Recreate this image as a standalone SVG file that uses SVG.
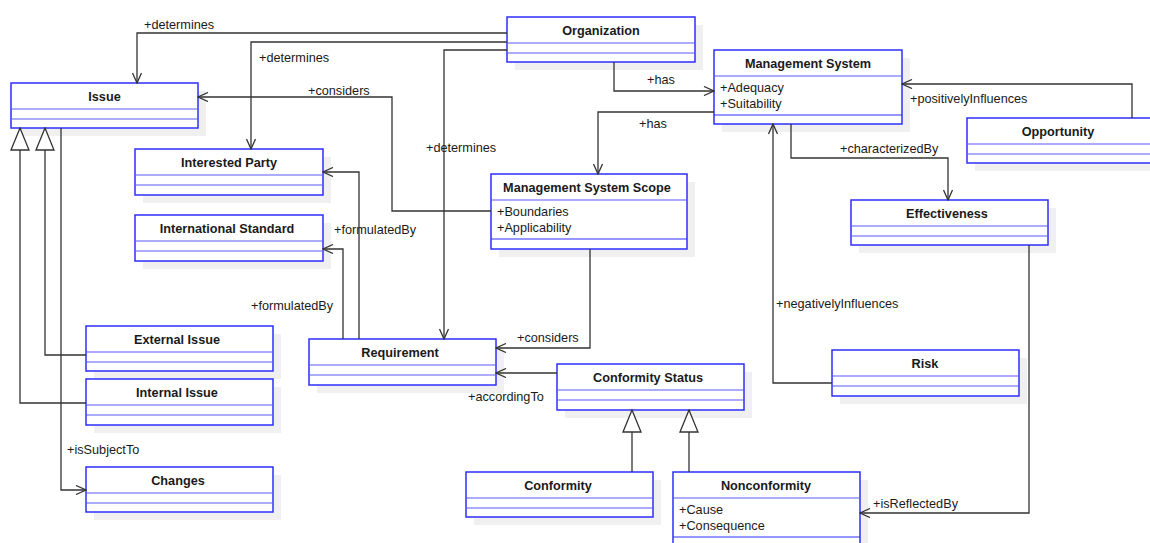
<svg xmlns="http://www.w3.org/2000/svg" width="1150" height="543" viewBox="0 0 1150 543">
  <defs>
    <style>
      .shadow { fill: #f0f0f0; stroke: none; }
      .box { fill: #ffffff; stroke: #2e2eff; stroke-width: 1.5; }
      .sep { stroke: #5a5aff; stroke-width: 1.2; fill: none; }
      .title { font-family: "Liberation Sans", Arial, sans-serif; font-size: 12.7px; font-weight: bold; fill: #1a1a1a; text-anchor: middle; }
      .attr { font-family: "Liberation Sans", Arial, sans-serif; font-size: 12.7px; fill: #1a1a1a; }
      .lbl { font-family: "Liberation Sans", Arial, sans-serif; font-size: 12.7px; fill: #1a1a1a; }
      .conn { fill: none; stroke: #333333; stroke-width: 1.3; }
      .assoc { marker-end: url(#open); }
      .gen { marker-end: url(#tri); }
    </style>
    <marker id="open" viewBox="0 0 12 10" refX="11" refY="5" markerWidth="12" markerHeight="10" markerUnits="userSpaceOnUse" orient="auto">
      <path d="M1,0.5 L11,5 L1,9.5" fill="none" stroke="#333333" stroke-width="1.3"/>
    </marker>
    <marker id="tri" viewBox="0 0 24 20" refX="23" refY="10" markerWidth="24" markerHeight="20" markerUnits="userSpaceOnUse" orient="auto">
      <path d="M1,1 L23,10 L1,19 Z" fill="#ffffff" stroke="#333333" stroke-width="1.3"/>
    </marker>
  </defs>

  <rect width="1150" height="543" fill="#ffffff"/>

  <!-- classes -->
  <g id="organization">
    <rect class="shadow" x="515" y="25" width="188" height="45"/>
    <rect class="box" x="507" y="17" width="188" height="45"/>
    <path class="sep" d="M507,43 H695 M507,53 H695"/>
    <text class="title" x="601" y="35">Organization</text>
  </g>

  <g id="issue">
    <rect class="shadow" x="19" y="91" width="187" height="45"/>
    <rect class="box" x="11" y="83" width="187" height="45"/>
    <path class="sep" d="M11,109 H198 M11,119 H198"/>
    <text class="title" x="104.5" y="101">Issue</text>
  </g>

  <g id="interested-party">
    <rect class="shadow" x="143" y="157" width="188" height="46"/>
    <rect class="box" x="135" y="149" width="188" height="46"/>
    <path class="sep" d="M135,175 H323 M135,185 H323"/>
    <text class="title" x="229" y="167">Interested Party</text>
  </g>

  <g id="international-standard">
    <rect class="shadow" x="143" y="223" width="188" height="46"/>
    <rect class="box" x="135" y="215" width="188" height="46"/>
    <path class="sep" d="M135,241 H323 M135,251 H323"/>
    <text class="title" x="227" y="233">International Standard</text>
  </g>

  <g id="management-system">
    <rect class="shadow" x="722" y="58" width="188" height="74"/>
    <rect class="box" x="714" y="50" width="188" height="74"/>
    <path class="sep" d="M714,76 H902"/>
    <path d="M714,115 H902" stroke="#2e2eff" stroke-width="1.2"/>
    <text class="title" x="808" y="68">Management System</text>
    <text class="attr" x="720" y="92">+Adequacy</text>
    <text class="attr" x="720" y="108">+Suitability</text>
  </g>

  <g id="opportunity">
    <rect class="shadow" x="975" y="126" width="188" height="45"/>
    <rect class="box" x="967" y="118" width="188" height="45"/>
    <path class="sep" d="M967,144 H1155 M967,154 H1155"/>
    <text class="title" x="1058" y="136">Opportunity</text>
  </g>

  <g id="management-system-scope">
    <rect class="shadow" x="499" y="182" width="196" height="75"/>
    <rect class="box" x="491" y="174" width="196" height="75"/>
    <path class="sep" d="M491,200 H687"/>
    <path d="M491,239 H687" stroke="#2e2eff" stroke-width="1.2"/>
    <text class="title" x="587" y="192">Management System Scope</text>
    <text class="attr" x="497" y="216">+Boundaries</text>
    <text class="attr" x="497" y="232">+Applicability</text>
  </g>

  <g id="effectiveness">
    <rect class="shadow" x="859" y="208" width="197" height="45"/>
    <rect class="box" x="851" y="200" width="197" height="45"/>
    <path class="sep" d="M851,226 H1048 M851,236 H1048"/>
    <text class="title" x="947" y="218">Effectiveness</text>
  </g>

  <g id="external-issue">
    <rect class="shadow" x="94" y="334" width="187" height="45"/>
    <rect class="box" x="86" y="326" width="187" height="45"/>
    <path class="sep" d="M86,352 H273 M86,362 H273"/>
    <text class="title" x="177" y="344">External Issue</text>
  </g>

  <g id="internal-issue">
    <rect class="shadow" x="94" y="387" width="187" height="46"/>
    <rect class="box" x="86" y="379" width="187" height="46"/>
    <path class="sep" d="M86,405 H273 M86,415 H273"/>
    <text class="title" x="177" y="397">Internal Issue</text>
  </g>

  <g id="changes">
    <rect class="shadow" x="94" y="475" width="187" height="45"/>
    <rect class="box" x="86" y="467" width="187" height="45"/>
    <path class="sep" d="M86,493 H273 M86,503 H273"/>
    <text class="title" x="178" y="485">Changes</text>
  </g>

  <g id="requirement">
    <rect class="shadow" x="317" y="347" width="187" height="46"/>
    <rect class="box" x="309" y="339" width="187" height="46"/>
    <path class="sep" d="M309,365 H496 M309,375 H496"/>
    <text class="title" x="400" y="357">Requirement</text>
  </g>

  <g id="conformity-status">
    <rect class="shadow" x="565" y="372" width="187" height="46"/>
    <rect class="box" x="557" y="364" width="187" height="46"/>
    <path class="sep" d="M557,390 H744 M557,400 H744"/>
    <text class="title" x="648" y="382">Conformity Status</text>
  </g>

  <g id="risk">
    <rect class="shadow" x="840" y="358" width="187" height="46"/>
    <rect class="box" x="832" y="350" width="187" height="46"/>
    <path class="sep" d="M832,376 H1019 M832,386 H1019"/>
    <text class="title" x="925" y="368">Risk</text>
  </g>

  <g id="conformity">
    <rect class="shadow" x="474" y="480" width="187" height="45"/>
    <rect class="box" x="466" y="472" width="187" height="45"/>
    <path class="sep" d="M466,498 H653 M466,508 H653"/>
    <text class="title" x="558" y="490">Conformity</text>
  </g>

  <g id="nonconformity">
    <rect class="shadow" x="681" y="480" width="187" height="74"/>
    <rect class="box" x="673" y="472" width="187" height="74"/>
    <path class="sep" d="M673,498 H860"/>
    <path d="M673,537 H860" stroke="#2e2eff" stroke-width="1.2"/>
    <text class="title" x="766" y="490">Nonconformity</text>
    <text class="attr" x="679" y="514">+Cause</text>
    <text class="attr" x="679" y="530">+Consequence</text>
  </g>

  <!-- associations and generalizations -->
  <g id="connectors">
    <path class="conn assoc" d="M507,33 H137 V83"/>
    <path class="conn assoc" d="M507,42 H251 V149"/>
    <path class="conn assoc" d="M507,50 H444 V339"/>
    <path class="conn assoc" d="M614,62 V91 H714"/>
    <path class="conn assoc" d="M714,112 H598 V174"/>
    <path class="conn assoc" d="M491,211 H392 V97 H198"/>
    <path class="conn assoc" d="M359,339 V172 H323"/>
    <path class="conn assoc" d="M343,339 V249 H323"/>
    <path class="conn assoc" d="M590,249 V348 H496"/>
    <path class="conn assoc" d="M557,373 H496"/>
    <path class="conn assoc" d="M832,383 H773 V124"/>
    <path class="conn assoc" d="M1132,118 V84 H902"/>
    <path class="conn assoc" d="M791,124 V158 H948 V200"/>
    <path class="conn assoc" d="M1029,245 V513 H860"/>
    <path class="conn assoc" d="M61,128 V490 H86"/>
    <path class="conn gen" d="M86,355 H45 V128"/>
    <path class="conn gen" d="M86,403 H20 V128"/>
    <path class="conn gen" d="M632,472 V410"/>
    <path class="conn gen" d="M689,472 V410"/>

    <text class="lbl" x="144" y="29">+determines</text>
    <text class="lbl" x="259" y="62">+determines</text>
    <text class="lbl" x="426" y="152">+determines</text>
    <text class="lbl" x="647" y="84">+has</text>
    <text class="lbl" x="639" y="128">+has</text>
    <text class="lbl" x="308" y="95">+considers</text>
    <text class="lbl" x="334" y="234">+formulatedBy</text>
    <text class="lbl" x="251" y="310">+formulatedBy</text>
    <text class="lbl" x="517" y="342">+considers</text>
    <text class="lbl" x="468" y="401">+accordingTo</text>
    <text class="lbl" x="776" y="308">+negativelyInfluences</text>
    <text class="lbl" x="910" y="103">+positivelyInfluences</text>
    <text class="lbl" x="840" y="153">+characterizedBy</text>
    <text class="lbl" x="873" y="508">+isReflectedBy</text>
    <text class="lbl" x="67" y="454">+isSubjectTo</text>
  </g>
</svg>
